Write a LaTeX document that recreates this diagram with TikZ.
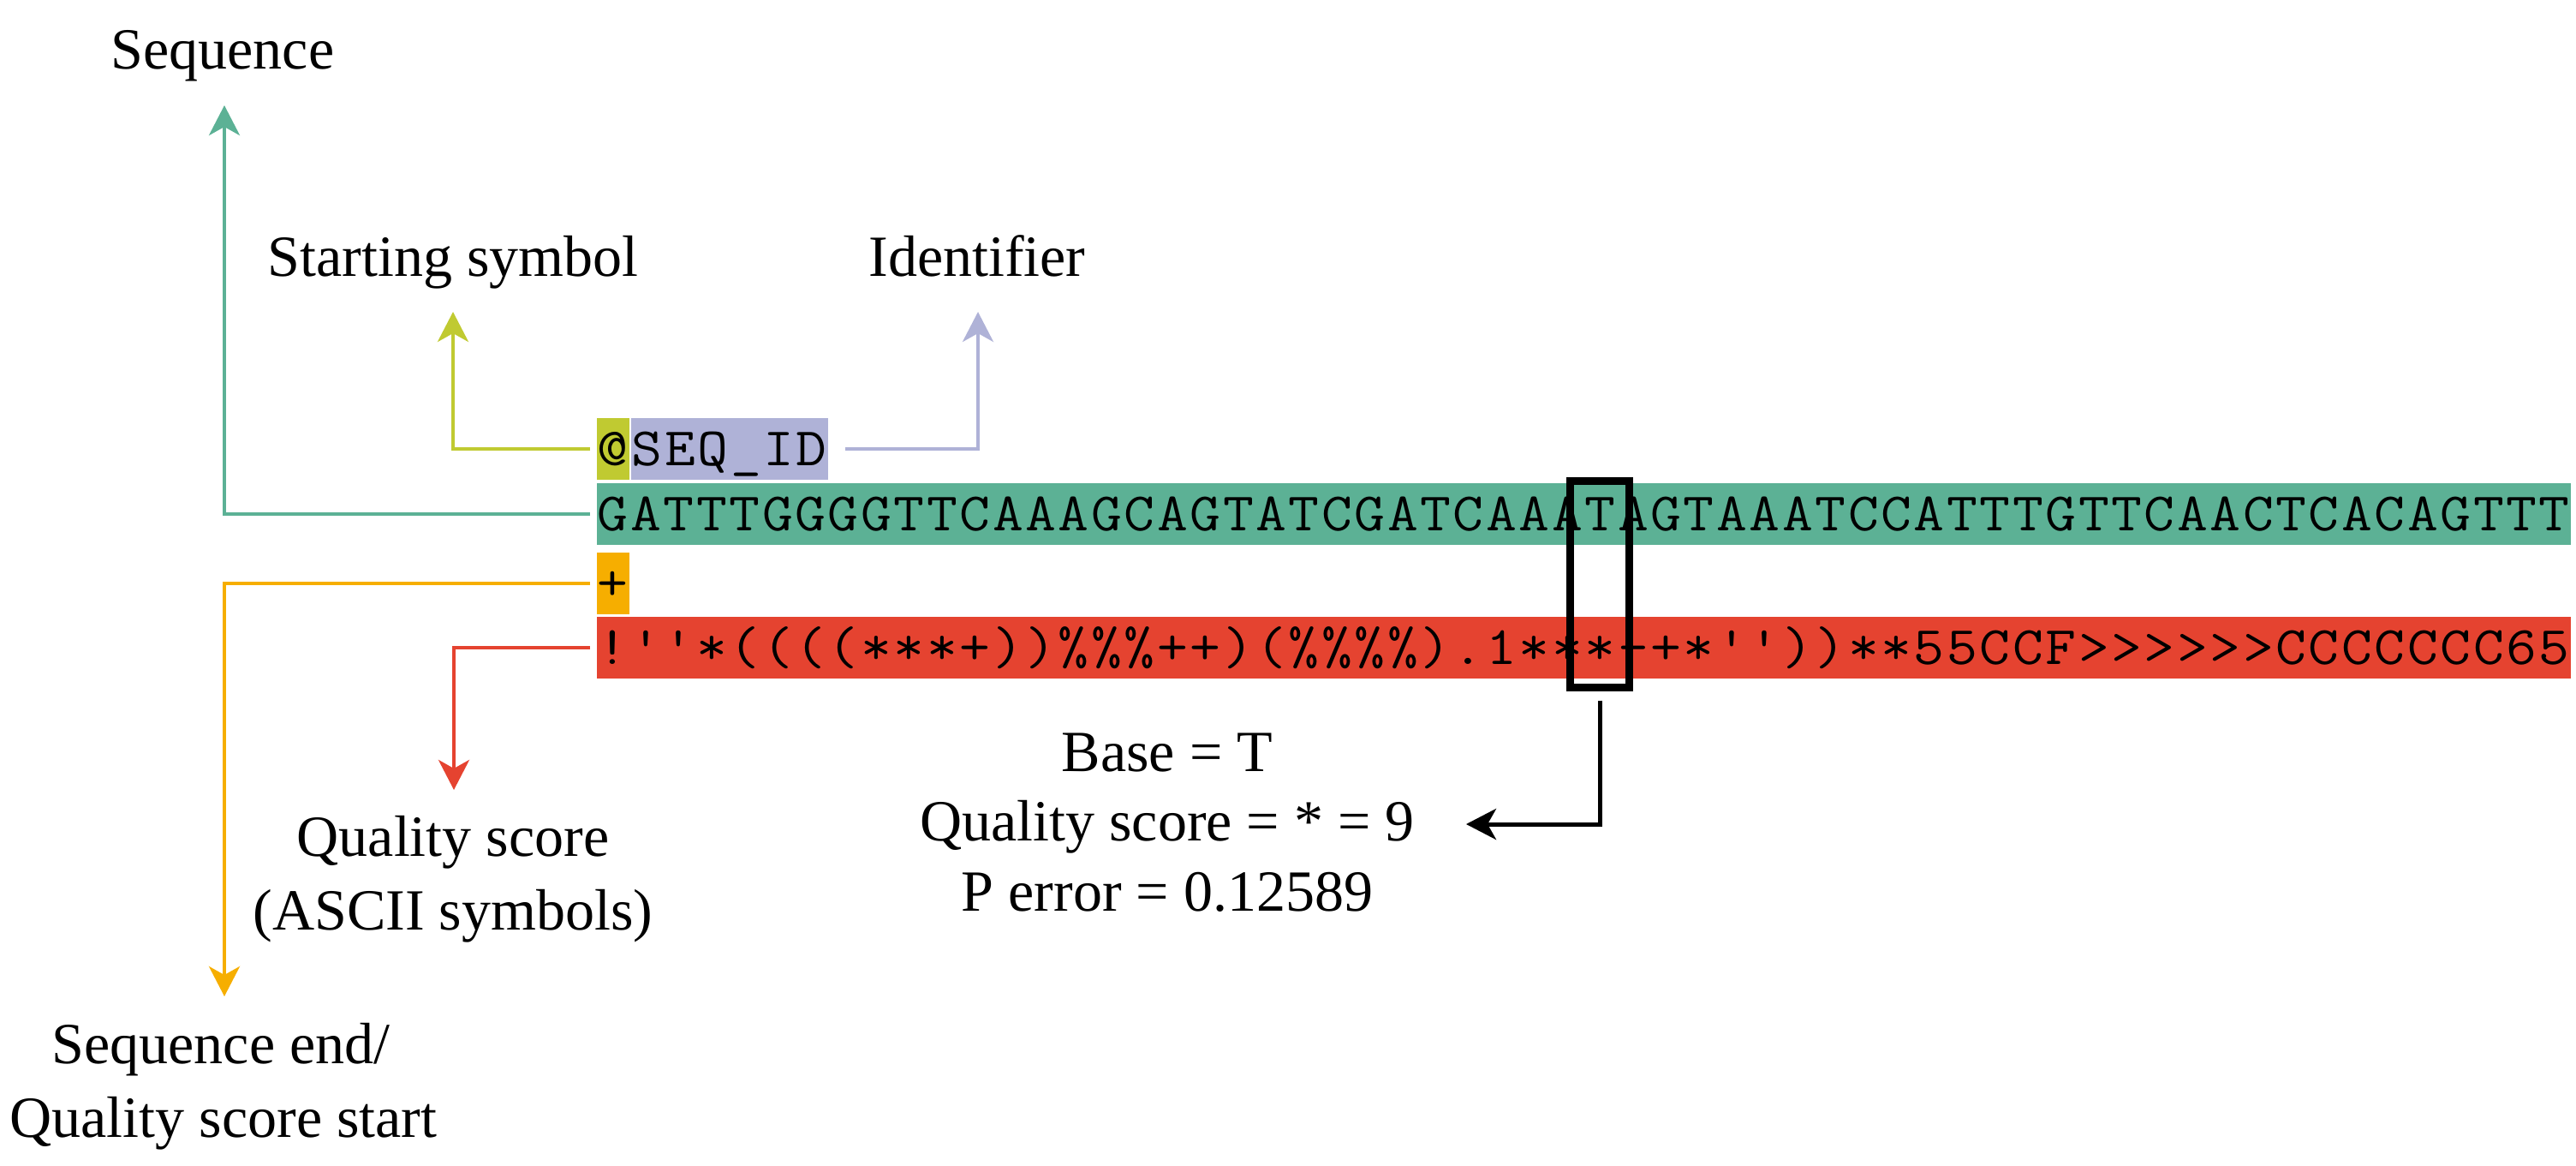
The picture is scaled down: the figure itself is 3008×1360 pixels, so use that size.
\documentclass[tikz,border=0pt]{standalone}
\usepackage{fontspec}
\usepackage{graphicx}
\setmainfont{Liberation Serif}
\usetikzlibrary{arrows.meta}
\definecolor{cgreen}{HTML}{5CB195}
\definecolor{cyg}{HTML}{C0CA31}
\definecolor{clav}{HTML}{AFB2D7}
\definecolor{corange}{HTML}{F6AE00}
\definecolor{cred}{HTML}{E54330}
\ExplSyntaxOn
\NewDocumentCommand{\rectext}{m}{
  \ttfamily\fontsize{18pt}{21pt}\selectfont
  \tl_map_inline:nn {#1} { \makebox[0.384cm]{\scalebox{1.1}[1]{##1}} }
}
\ExplSyntaxOff
\begin{document}
\begin{tikzpicture}[x=0.01cm, y=-0.01cm,
  lab/.style={font=\fontsize{19.35pt}{24pt}\selectfont, inner sep=0, anchor=base},
  cell/.style={inner xsep=0, inner ysep=0, text height=0.553cm, text depth=0.167cm, anchor=west},
  conn/.style={line width=0.04cm, -{Stealth[length=0.35cm, width=0.36cm, inset=0.1cm]}},
  selbox/.style={draw=black, line width=0.09cm, minimum width=0.69cm, minimum height=2.41cm, inner sep=0}
]
\useasboundingbox (0,0) rectangle (3008,1360);

% record lines
\node[cell, fill=cyg, minimum width=0.384cm] (at) at (696,524) {\rectext{@}};
\node[cell, fill=clav, minimum width=2.304cm] (id) at (at.east) {\rectext{SEQ\_ID}};
\node[cell, fill=cgreen, minimum width=23.04cm] (seq) at (696,600) {\rectext{GATTTGGGGTTCAAAGCAGTATCGATCAAATAGTAAATCCATTTGTTCAACTCACAGTTT}};
\node[cell, fill=corange, minimum width=0.384cm] (plus) at (696,681) {\rectext{+}};
\node[cell, fill=cred, minimum width=23.04cm] (qual) at (696,756) {\rectext{!''*((((***+))\%\%\%++)(\%\%\%\%).1***-+*''))**55CCF>>>>>>CCCCCCC65}};

% highlight box
\node[selbox] (box) at (1868,682) {};

% labels
\node[lab] (lseq) at (260,80) {Sequence};
\node[lab] (lstart) at (529,322) {Starting symbol};
\node[lab] (lid) at (1141,322) {Identifier};
\node[lab] (lq1) at (529,999) {Quality score};
\node[lab] (lq2) at (529,1085) {(ASCII symbols)};
\node[lab] (le1) at (258,1241) {Sequence end/};
\node[lab] (le2) at (261,1327) {Quality score start};
\node[lab] (lb1) at (1363,900) {Base = T};
\node[lab] (lb2) at (1363,981) {Quality score = * = 9};
\node[lab] (lb3) at (1363,1063) {P error = 0.12589};

% arrow tips
\coordinate (tseq) at (262,123);
\coordinate (tstart) at (529,364);
\coordinate (tid) at (1142,364);
\coordinate (tend) at (262,1163);
\coordinate (tqual) at (530,922);
\coordinate (tbase) at (1712,962);

% connectors
\draw[conn, cgreen] ([xshift=-0.07cm]seq.west) -| (tseq);
\draw[conn, cyg] ([xshift=-0.07cm]at.west) -| (tstart);
\draw[conn, clav] ([xshift=0.19cm]id.east) -| (tid);
\draw[conn, corange] ([xshift=-0.07cm]plus.west) -| (tend);
\draw[conn, cred] ([xshift=-0.07cm]qual.west) -| (tqual);
\draw[conn, black, line width=0.05cm] ([yshift=-0.105cm]box.south) |- (tbase);
\end{tikzpicture}
\end{document}
